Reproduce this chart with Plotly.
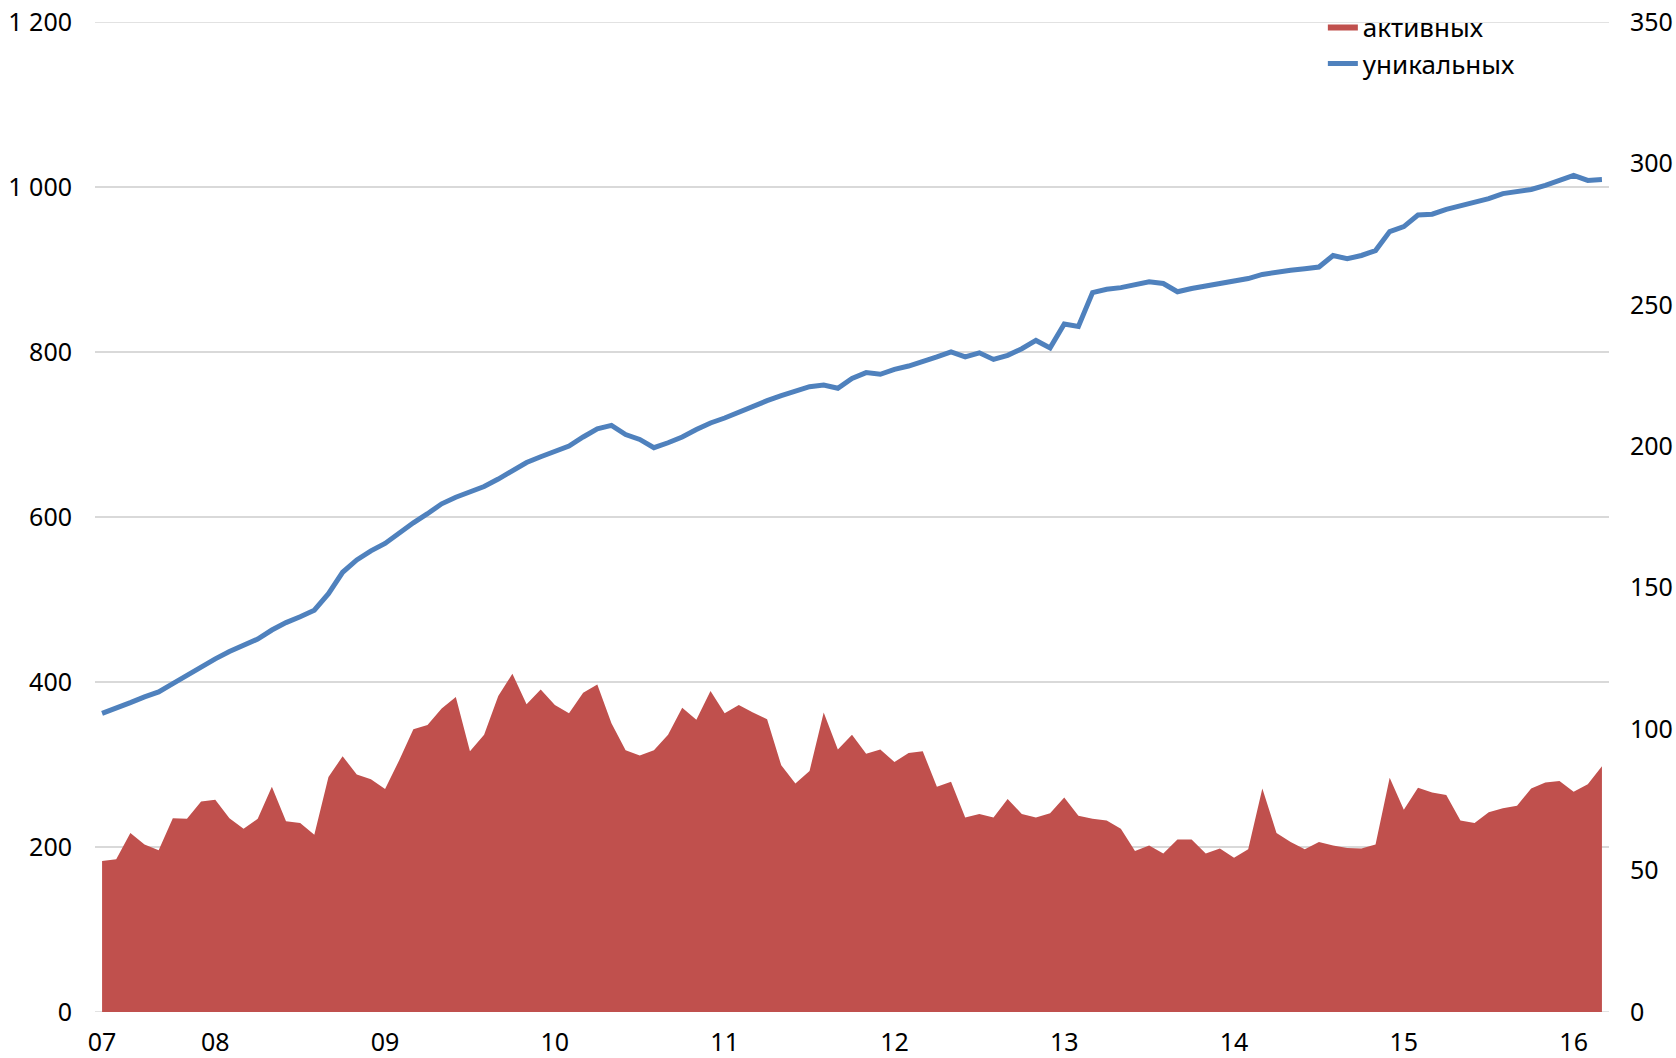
import plotly.graph_objects as go

# monthly categories May 2007 .. Mar 2016
months = []
y, m = 2007, 5
while (y, m) <= (2016, 3):
    months.append(f"{y}-{m:02d}")
    m += 1
    if m > 12:
        m = 1
        y += 1

tick_months = ["2007-05", "2008-01", "2009-01", "2010-01", "2011-01", "2012-01",
               "2013-01", "2014-01", "2015-01", "2016-01"]
tick_labels = ["07", "08", "09", "10", "11", "12", "13", "14", "15", "16"]

# уникальных (left axis)
unique_users = [
    362, 368, 375, 382, 388, 398, 408, 419, 428, 437,
    444, 452, 463, 472, 479, 487, 507, 533, 548, 559,
    568, 581, 593, 604, 616, 624, 631, 637, 646, 656,
    666, 673, 680, 686, 697, 707, 711, 700, 694, 684,
    690, 697, 706, 714, 720, 727, 735, 741, 747, 753,
    758, 760, 756, 768, 775, 773, 779, 783, 788, 794,
    800, 794, 799, 791, 796, 804, 814, 805, 834, 831,
    872, 876, 878, 881, 885, 883, 873, 877, 880, 883,
    885, 889, 894, 897, 899, 901, 903, 917, 913, 917,
    923, 946, 952, 966, 967, 973, 977, 981, 986, 992,
    994, 997, 1002, 1008, 1014, 1008, 1009,
]

# активных (right axis)
active_users = [
    53.4, 54.0, 63.3, 59.2, 57.2, 68.5, 68.3, 74.4, 75.0, 68.5,
    64.8, 68.3, 79.6, 67.4, 66.8, 62.7, 83.1, 90.4, 84.0, 82.3,
    78.8, 89.0, 100.0, 101.5, 107.3, 111.4, 92.2, 98.0, 111.7, 119.6,
    108.8, 114.0, 108.5, 105.6, 112.9, 115.8, 102.1, 92.5, 90.7, 92.5,
    98.0, 107.6, 103.3, 113.5, 105.6, 108.5, 105.9, 103.5, 87.2, 80.8,
    85.2, 105.9, 92.8, 98.0, 91.3, 92.8, 88.4, 91.6, 92.2, 79.6,
    81.4, 68.8, 70.0, 68.8, 75.3, 70.0, 68.8, 70.3, 75.8, 69.4,
    68.3, 67.7, 64.8, 56.9, 58.9, 56.0, 61.0, 61.0, 56.0, 57.8,
    54.5, 57.5, 79.0, 63.3, 60.1, 57.5, 60.1, 58.9, 58.0, 57.8,
    59.2, 82.8, 71.5, 79.3, 77.6, 76.7, 67.7, 66.8, 70.6, 72.0,
    72.9, 79.0, 81.1, 81.7, 77.9, 80.5, 86.9,
]

left_ticks = [0, 200, 400, 600, 800, 1000, 1200]
left_labels = ["0", "200", "400", "600", "800", "1 000", "1 200"]
right_ticks = [0, 50, 100, 150, 200, 250, 300, 350]
right_labels = ["0", "50", "100", "150", "200", "250", "300", "350"]

FONT = "Noto Sans, DejaVu Sans, sans-serif"
GRID = "#D9D9D9"

fig = go.Figure()
fig.add_trace(go.Scatter(
    x=months, y=active_users, name="активных", mode="lines",
    line=dict(width=0, color="#C0504D"), fill="tozeroy", fillcolor="#C0504D",
    yaxis="y2", legendgroup="a",
))
fig.add_trace(go.Scatter(
    x=months, y=unique_users, name="уникальных", mode="lines",
    line=dict(width=5, color="#4F81BD"), yaxis="y", legendgroup="b",
))

# outermost gridlines (Plotly omits gridlines lying on the range edges)
for v in (left_ticks[0], left_ticks[-1]):
    fig.add_shape(type="line", xref="paper", yref="y", x0=0, x1=1, y0=v, y1=v,
                  line=dict(color=GRID, width=1.5), layer="below")

fig.update_layout(
    width=1676, height=1058,
    margin=dict(l=95, r=67, t=22, b=46, autoexpand=False),
    paper_bgcolor="white", plot_bgcolor="white",
    font=dict(family=FONT, size=25, color="#000000"),
    showlegend=True,
    legend=dict(x=0.811, y=1.019, xanchor="left", yanchor="top",
                bgcolor="rgba(0,0,0,0)", tracegroupgap=0,
                font=dict(family=FONT, size=26, color="#000000")),
    xaxis=dict(type="category", categoryorder="array", categoryarray=months,
               range=[-0.5, len(months) - 0.5], automargin=False,
               tickmode="array", tickvals=tick_months, ticktext=tick_labels,
               showgrid=False, zeroline=False, showline=False, ticks="",
               ticklabelstandoff=13),
    yaxis=dict(range=[0, 1200], tickmode="array", tickvals=left_ticks,
               ticktext=left_labels, showgrid=True, gridcolor=GRID,
               gridwidth=1.5, zeroline=False, showline=False, ticks="",
               ticklabelstandoff=22, automargin=False),
    yaxis2=dict(range=[0, 350], overlaying="y", side="right", tickmode="array",
                tickvals=right_ticks, ticktext=right_labels, showgrid=False,
                zeroline=False, showline=False, ticks="", ticklabelstandoff=20,
                automargin=False),
)

# remove the browser's default 8px body margin so the figure fills the window
fig.write_html("out.html", config={"displayModeBar": False},
               post_script="document.body.style.margin='0';")
